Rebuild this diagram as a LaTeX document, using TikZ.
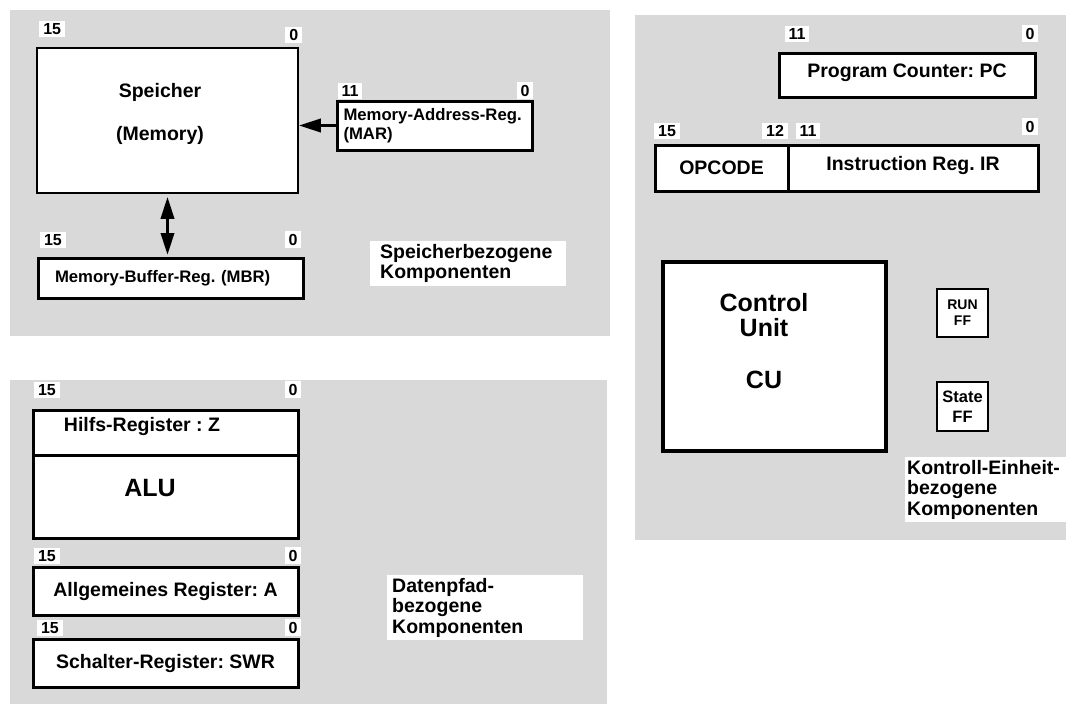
\documentclass[tikz,border=0pt]{standalone}
\usepackage{fontspec}
\setmainfont{Liberation Sans}
\usetikzlibrary{positioning,arrows.meta}

\newcommand\regfont{\fontsize{19.5pt}{20.5pt}\selectfont\bfseries}
\newcommand\marfont{\fontsize{16.7pt}{19pt}\selectfont\bfseries}
\newcommand\bitfont{\fontsize{16pt}{18pt}\selectfont\bfseries}
\newcommand\bigfont{\fontsize{25pt}{24.5pt}\selectfont\bfseries}
\newcommand\runfont{\fontsize{14pt}{16pt}\selectfont\bfseries}
\newcommand\statefont{\fontsize{16.5pt}{20pt}\selectfont\bfseries}

\begin{document}
\frenchspacing
\begin{tikzpicture}[
  x=1pt,y=-1pt,
  panel/.style={fill=black!15},
  reg/.style={draw,fill=white,line width=3pt,outer sep=0pt,inner sep=0pt,font=\regfont,align=center},
  box/.style={draw,fill=white,line width=1.5pt,inner sep=0pt,align=center},
  bit/.style={fill=white,font=\bitfont,inner xsep=4pt,inner ysep=2.5pt},
  grp/.style={fill=white,font=\regfont,align=left,anchor=north west,inner ysep=3pt},
  txt/.style={font=\regfont,align=center},
  big/.style={font=\bigfont,align=center},
  >={Triangle[length=22pt,width=13pt]}
]
\useasboundingbox (0,0) rectangle (1066,704);
\fill[panel] (10,10) rectangle (610,336);
\fill[panel] (635,15) rectangle (1066,540);
\fill[panel] (10,380) rectangle (607,704);

\node[box,minimum width=261pt,minimum height=145pt] (spk) at (167.5,120.5) {};
\node[txt] at (160,113.5) {Speicher\\[22.5pt](Memory)};
\node[bit,above=10pt of spk.north west,xshift=16pt] {15};
\node[bit,above=4pt of spk.north east,xshift=-5pt] {0};

\node[reg,font=\marfont,align=left,text width=182pt,inner xsep=6.5pt,minimum height=49pt] (mar) at (434.5,125.5) {Memory-Address-Reg.\\(MAR)};
\node[bit,above=2pt of mar.north west,xshift=13pt] {11};
\node[bit,above=2pt of mar.north east,xshift=-7pt] {0};

\node[reg,font=\marfont,align=left,text width=231pt,inner xsep=17pt,minimum height=40pt] (mbr) at (170.5,278) {Memory-Buffer-Reg. (MBR)};
\node[bit,above=10pt of mbr.north west,xshift=15pt] {15};
\node[bit,above=10pt of mbr.north east,xshift=-10pt] {0};

\draw[line width=3.5pt,->] (mar.west) -- (mar.west -| spk.east);
\draw[line width=3.5pt,<->,shorten <=3pt,shorten >=3pt] (spk.south) -- (spk.south |- mbr.north);

\node[grp,inner xsep=10pt,text width=176pt] (lspk) at (370,241) {Speicherbezogene\\Komponenten};

\node[reg,minimum width=256pt,minimum height=44pt,text depth=8pt] (pc) at (907,75) {Program Counter: PC};
\node[bit,above=11pt of pc.north west,xshift=18pt] {11};
\node[bit,above=11pt of pc.north east,xshift=-5pt] {0};

\node[reg,minimum width=133pt,minimum height=46pt] (opc) at (721.5,168) {OPCODE};
\node[reg,minimum width=250pt,minimum height=46pt,text depth=10pt,right=0pt of opc] (ir) {Instruction Reg. IR};
\node[bit,above=6pt of opc.north west,xshift=12pt] {15};
\node[bit,above=6pt of opc.north east,xshift=-13pt] {12};
\node[bit,above=6pt of ir.north west,xshift=20pt] {11};
\node[bit,above=10pt of ir.north east,xshift=-8pt] {0};

\node[reg,line width=3.5pt,minimum width=223pt,minimum height=189pt] (cu) at (774.5,356.5) {};
\node[big] at (764,341) {Control\\Unit\\[27.5pt]CU};

\node[box,font=\runfont,minimum width=51pt,minimum height=48pt] (run) at (962.5,313) {RUN\\FF};
\node[box,font=\statefont,minimum width=51pt,minimum height=49pt] (state) at (962.5,406.5) {State\\FF};

\node[grp,inner xsep=2pt,text width=159pt] (lcu) at (905,457) {Kontroll-Einheit-\\bezogene\\Komponenten};

\node[reg,minimum width=265pt,minimum height=45pt] (hz) at (165.5,432.5) {};
\node[reg,minimum width=265pt,minimum height=83pt,below=0pt of hz] (alu) {};
\node[txt] at (142,426) {Hilfs-Register : Z};
\node[big] at (150,488) {ALU};
\node[bit,above=12pt of hz.north west,xshift=14pt] {15};
\node[bit,above=12pt of hz.north east,xshift=-5pt] {0};

\node[reg,minimum width=265pt,minimum height=48pt] (ra) at (165.5,591) {Allgemeines Register: A};
\node[bit,above=3pt of ra.north west,xshift=14pt] {15};
\node[bit,above=3pt of ra.north east,xshift=-5pt] {0};

\node[reg,minimum width=265pt,minimum height=48pt] (swr) at (165.5,663) {Schalter-Register: SWR};
\node[bit,above=3pt of swr.north west,xshift=17pt] {15};
\node[bit,above=3pt of swr.north east,xshift=-5pt] {0};

\node[grp,inner xsep=5pt,text width=186pt] (ldat) at (387,575) {Datenpfad-\\bezogene\\Komponenten};
\end{tikzpicture}
\end{document}
